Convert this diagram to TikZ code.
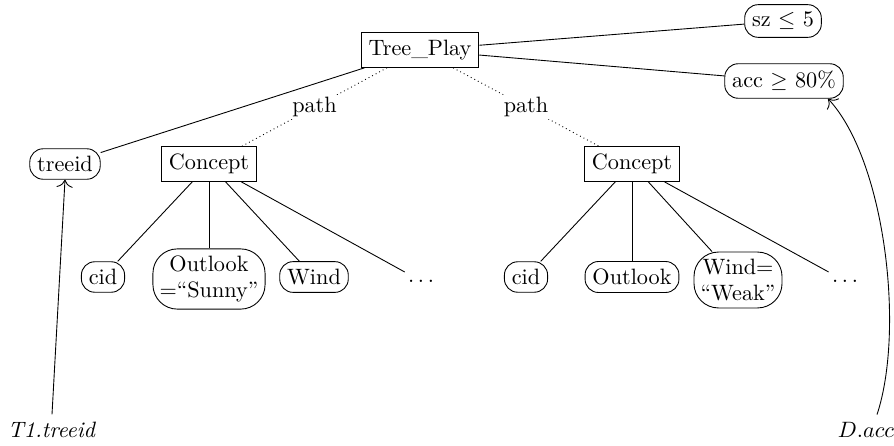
\documentclass[tikz,border=0pt]{standalone}
\usetikzlibrary{calc,arrows.meta}
\begin{document}
\begin{tikzpicture}[x=0.45pt,y=-0.45pt,
  >={To[scale=1.4]},
  box/.style={draw, inner sep=3.33pt},
  rbox/.style={draw, rounded corners=6pt, inner sep=3.33pt},
  rboxtwo/.style={draw, rounded corners=11pt, align=center, inner sep=3pt},
  pathlbl/.style={fill=white, inner sep=1pt},
  dotline/.style={dash pattern=on 0.4pt off 1.4pt}]
\useasboundingbox (0,0) rectangle (894,445);
\node[box] (tp) at (420,50) {Tree\_Play};
\node[rbox] (sz) at (783,21) {sz $\leq$ 5};
\node[rbox] (acc) at (784,81) {acc $\geq$ 80\%};
\node[rbox] (treeid) at (65,164) {treeid};
\node[box] (c1) at (209,164) {Concept};
\node[box] (c2) at (632,164) {Concept};
\node[rbox] (cid1) at (103,277) {cid};
\node[rboxtwo] (out1) at (209,279) {Outlook\\=``Sunny''};
\node[rbox] (wind1) at (314,277) {Wind};
\node (dots1) at (421,281) {$\ldots$};
\node[rbox] (cid2) at (526,277) {cid};
\node[rbox] (out2) at (632,277) {Outlook};
\node[rboxtwo] (wind2) at (738,280) {Wind=\\``Weak''};
\node (dots2) at (845,281) {$\ldots$};
\node (t1) at (52,430) {\textit{T1.treeid}};
\node (dacc) at (866,430) {$D.acc$};
\draw (tp) -- (sz);
\draw (tp) -- (acc);
\draw (tp) -- (treeid);
\draw[dotline] (tp) -- node[pathlbl] {path} (c1);
\draw[dotline] (tp) -- node[pathlbl] {path} (c2);
\foreach \ch in {cid1,out1,wind1,dots1} \draw (c1) -- (\ch);
\foreach \ch in {cid2,out2,wind2,dots2} \draw (c2) -- (\ch);
\draw[->] (t1.north) -- (treeid.south);
\draw[->] ($(dacc.north)+(11,0)$) .. controls (905,330) and (885,160) .. ($(acc.south)+(44,0)$);
\end{tikzpicture}
\end{document}
